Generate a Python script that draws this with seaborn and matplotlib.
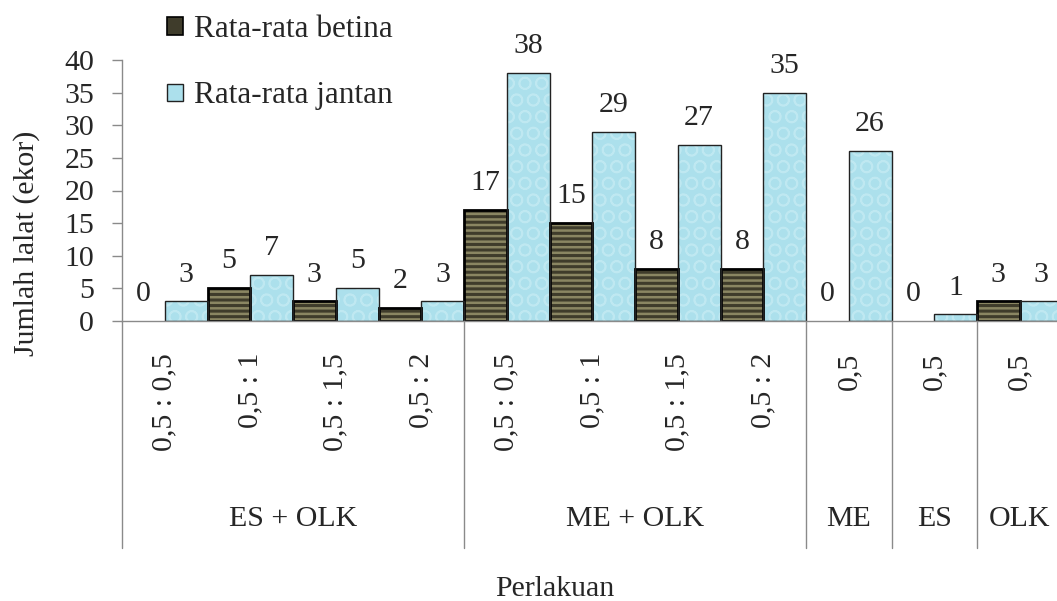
import numpy as np
import pandas as pd
import matplotlib
matplotlib.use("Agg")
import matplotlib.pyplot as plt
import matplotlib.transforms as mtrans
from matplotlib.patches import Patch, Rectangle
import seaborn as sns

# ---------------- data ----------------
groups = ["ES + OLK"] * 4 + ["ME + OLK"] * 4 + ["ME", "ES", "OLK"]
doses = ["0,5 : 0,5", "0,5 : 1", "0,5 : 1,5", "0,5 : 2"] * 2 + ["0,5"] * 3
betina = [0, 5, 3, 2, 17, 15, 8, 8, 0, 0, 3]
jantan = [3, 7, 5, 3, 38, 29, 27, 35, 26, 1, 3]
series = ["Rata-rata betina", "Rata-rata jantan"]
yticks = [0, 5, 10, 15, 20, 25, 30, 35, 40]
ylabel = "Jumlah lalat (ekor)"
xlabel = "Perlakuan"

keys = [f"{g}|{d}" for g, d in zip(groups, doses)]
df = pd.DataFrame({
    "key": keys * 2,
    "series": [series[0]] * len(keys) + [series[1]] * len(keys),
    "value": betina + jantan,
})

# ---------------- style ----------------
sns.set_theme(style="white")
plt.rcParams["font.family"] = ["Liberation Serif", "DejaVu Serif"]
plt.rcParams["hatch.linewidth"] = 1.8
FS = 21.5
c_bet = "#3f3c2b"
c_bet_h = "#8a8662"
c_jan = "#ace0ec"
c_jan_h = "#bfe8f1"
grey = "#8a8a8a"

W, H = 1057, 601
fig = plt.figure(figsize=(W / 100, H / 100), dpi=100)
ax = fig.add_axes([122 / W, 280 / H, 940.5 / W, 261 / H])

sns.barplot(data=df, x="key", y="value", hue="series", order=keys,
            hue_order=series, palette=[c_bet, c_jan], width=1.0, gap=0,
            saturation=1, errorbar=None, legend=False, ax=ax)

# styling of bars (texture + outline from the bar geometry)
for ci, cont in enumerate(ax.containers[:2]):
    for p in cont.patches:
        h = p.get_height()
        if ci == 0:
            p.set_hatch("---")
            p.set_edgecolor(c_bet_h)
        else:
            p.set_hatch("O")
            p.set_edgecolor(c_jan_h)
            if hasattr(p, "set_hatch_linewidth"):
                p.set_hatch_linewidth(1.2)
        p.set_linewidth(0)
        if h > 0:
            ax.add_patch(Rectangle(p.get_xy(), p.get_width(), h, fill=False,
                                   edgecolor="black" if ci == 0 else "#222222",
                                   lw=2.0 if ci == 0 else 1.0, zorder=p.get_zorder() + 0.1))

for cont in ax.containers[:2]:
    ax.bar_label(cont, fmt="%d", padding=10, fontsize=FS)

# axes
ax.set_ylim(0, 40)
ax.set_xlim(-0.5, len(keys) - 0.5)
ax.set_yticks(yticks)
ax.set_yticklabels([str(v) for v in yticks], fontsize=FS)
ax.set_xticks(range(len(keys)))
ax.set_xticklabels(doses, rotation=90, fontsize=FS, va="top", ha="center")
ax.tick_params(axis="y", left=True, length=7, width=1, color=grey, pad=13, direction="out")
ax.tick_params(axis="x", bottom=False, length=0, pad=23)
for s in ["top", "right"]:
    ax.spines[s].set_visible(False)
for s in ["left", "bottom"]:
    ax.spines[s].set_color(grey)
    ax.spines[s].set_linewidth(1)

ax.set_ylabel(ylabel, fontsize=FS)
ax.yaxis.set_label_coords((40 - 122) / 940.5, (321 - 243) / 261)
ax.set_xlabel(xlabel, fontsize=FS)
ax.xaxis.set_label_coords((555 - 122) / 940.5, (321 - 576) / 261)

# multi-level category axis
trans = mtrans.blended_transform_factory(ax.transData, ax.transAxes)
bounds = [-0.5]
for i in range(1, len(groups)):
    if groups[i] != groups[i - 1]:
        bounds.append(i - 0.5)
bounds.append(len(groups) - 0.5)
for b in bounds:
    ax.plot([b, b], [0, (321 - 548) / 261], transform=trans, color=grey,
            lw=1, clip_on=False)
for a, b in zip(bounds[:-1], bounds[1:]):
    name = groups[int(a + 0.5)]
    ax.text((a + b) / 2, (321 - 519) / 261, name, transform=trans,
            ha="center", va="center", fontsize=FS)

# legend
handles = [Patch(facecolor=c_bet, edgecolor="black", lw=1.2),
           Patch(facecolor=c_jan, edgecolor="#222222", lw=1.0)]
fig.legend(handles=handles, labels=series, loc="upper left",
           bbox_to_anchor=(167 / W, 1 - 15 / H), frameon=False, fontsize=22.5,
           handlelength=0.5, handleheight=0.5, handletextpad=0.35,
           labelspacing=1.2, borderpad=0, borderaxespad=0)

fig.savefig("out.png", dpi=100)
